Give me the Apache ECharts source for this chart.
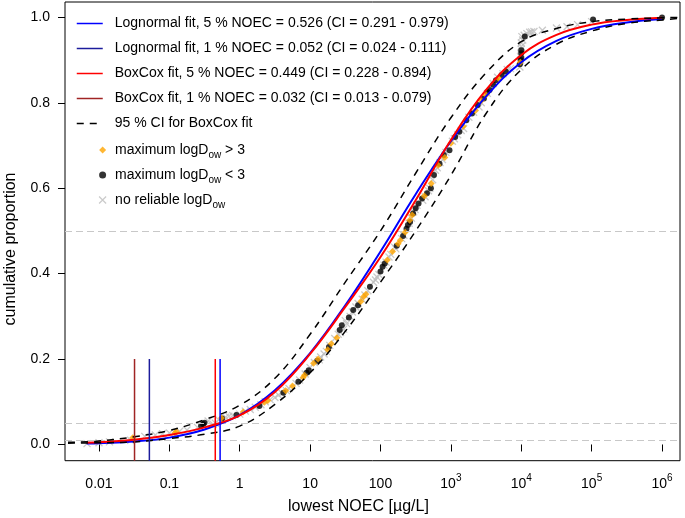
<!DOCTYPE html>
<html><head><meta charset="utf-8">
<script src="https://cdn.jsdelivr.net/npm/echarts@6/dist/echarts.min.js"></script>
<style>html,body{margin:0;padding:0;background:#fff}#c{width:685px;height:518px}</style>
</head><body><div id="c"></div>
<script>
// ---------- data ----------
const xTicks = [0.01, 0.1, 1, 10, 100, 1000, 10000, 100000, 1000000];
const yTicks = [0, 0.2, 0.4, 0.6, 0.8, 1];

const fitX = [0.00668, 0.01, 0.0316, 0.1, 0.316, 1, 3.16, 10, 31.6, 100, 316, 1000, 3162, 10000, 31623, 100000, 316228, 1000000];
const lognormalY = [0.002, 0.003, 0.007, 0.016, 0.035, 0.069, 0.127, 0.214, 0.326, 0.452, 0.586, 0.71, 0.815, 0.895, 0.945, 0.973, 0.988, 0.996];
const boxcoxY = [0.004, 0.005, 0.011, 0.022, 0.040, 0.068, 0.123, 0.212, 0.322, 0.439, 0.572, 0.713, 0.83, 0.912, 0.959, 0.983, 0.994, 0.999];

const ciX = [0.00363, 0.01, 0.0316, 0.1, 0.316, 1, 3.16, 10, 31.6, 100, 316, 1000, 3162, 10000, 31623, 100000, 316228, 1000000, 1778000];
const ciUpper = [0.005, 0.008, 0.018, 0.033, 0.058, 0.092, 0.155, 0.258, 0.38, 0.50, 0.635, 0.765, 0.87, 0.943, 0.974, 0.99, 0.996, 0.999, 1.0];
const ciLower = [0.003, 0.004, 0.006, 0.014, 0.024, 0.043, 0.094, 0.168, 0.265, 0.38, 0.50, 0.63, 0.775, 0.878, 0.937, 0.968, 0.986, 0.994, 0.998];

const refLevels = [0.01, 0.05, 0.5];

const noecNames = [
  'Lognormal fit, 5 % NOEC = 0.526 (CI = 0.291 - 0.979)',
  'Lognormal fit, 1 % NOEC = 0.052 (CI = 0.024 - 0.111)',
  'BoxCox fit, 5 % NOEC = 0.449 (CI = 0.228 - 0.894)',
  'BoxCox fit, 1 % NOEC = 0.032 (CI = 0.013 - 0.079)'
];
const noecValues = [0.526, 0.052, 0.449, 0.032];
const noecSegmentTop = 0.2;
const ciName = '95 % CI for BoxCox fit';

const pointNames = ['maximum logDow > 3', 'maximum logDow < 3', 'no reliable logDow'];

const pointsOrange = [[0.0302,0.016],[0.120,0.027],[0.126,0.030],[0.55,0.062],[1.12,0.076],[2.24,0.099],[2.51,0.103],[4.5,0.126],[5.62,0.137],[7.94,0.157],[8.32,0.162],[11.2,0.19],[13,0.2],[17.8,0.222],[20,0.236],[24,0.25],[52.5,0.335],[57.5,0.346],[62,0.352],[125,0.432],[148,0.452],[178,0.47],[191,0.478],[224,0.497],[260,0.525],[282,0.537],[420,0.582],[525,0.611],[661,0.654],[820,0.672],[1000,0.705],[1500,0.745],[2239,0.782],[2700,0.805],[3162,0.818],[4786,0.857],[9700,0.895]];

const pointsBlack = [[0.282,0.044],[0.302,0.048],[0.316,0.051],[0.562,0.061],[0.9,0.069],[1.9,0.09],[4.17,0.121],[6.8,0.147],[8.91,0.168],[9.55,0.174],[12.6,0.196],[18.5,0.228],[26.3,0.268],[28.2,0.279],[35.5,0.297],[41,0.315],[48,0.326],[70.8,0.369],[100,0.405],[107,0.416],[115,0.424],[170,0.465],[209,0.488],[234,0.505],[245,0.514],[263,0.521],[290,0.541],[316,0.553],[347,0.564],[390,0.576],[457,0.588],[520,0.6],[575,0.631],[690,0.657],[794,0.678],[955,0.689],[1150,0.72],[1318,0.732],[1660,0.759],[1995,0.775],[2400,0.795],[2951,0.81],[3300,0.825],[3548,0.83],[3981,0.842],[4365,0.853],[5248,0.865],[6026,0.873],[9550,0.89],[9800,0.9],[10000,0.905],[10000,0.916],[10000,0.923],[11220,0.955],[104700,0.995],[1000000,1.0]];

const pointsGray = [[0.00676,0.002],[0.01,0.004],[0.0141,0.006],[0.0282,0.010],[0.0447,0.019],[0.0631,0.022],[0.08,0.025],[0.1,0.027],[0.14,0.031],[0.178,0.034],[0.251,0.040],[0.355,0.055],[0.42,0.047],[0.45,0.05],[0.501,0.058],[0.631,0.064],[0.7,0.066],[0.794,0.068],[1,0.071],[1.2,0.078],[1.41,0.082],[1.66,0.087],[2.0,0.093],[2.3,0.1],[2.7,0.105],[3.16,0.110],[3.55,0.116],[4.0,0.12],[4.6,0.126],[5.01,0.131],[6.31,0.143],[7.08,0.151],[8.5,0.165],[10,0.18],[11.5,0.192],[13.5,0.198],[14.1,0.205],[15.8,0.212],[17,0.218],[19,0.232],[22.4,0.248],[25.1,0.258],[27,0.262],[30,0.27],[31.6,0.29],[33,0.283],[37,0.3],[39.8,0.31],[44.7,0.322],[48,0.33],[55,0.34],[60,0.35],[66.1,0.36],[79.4,0.38],[85,0.385],[89.1,0.392],[95,0.398],[112,0.42],[120,0.427],[132,0.439],[140,0.445],[158,0.462],[165,0.458],[200,0.482],[215,0.49],[255,0.518],[275,0.53],[295,0.545],[310,0.55],[330,0.56],[398,0.572],[430,0.58],[480,0.594],[501,0.6],[550,0.62],[603,0.642],[640,0.648],[700,0.66],[759,0.667],[850,0.684],[1050,0.71],[1122,0.716],[1250,0.725],[1400,0.735],[1514,0.74],[1800,0.766],[2100,0.778],[2512,0.79],[2700,0.8],[3300,0.822],[4000,0.845],[4600,0.86],[5500,0.868],[6310,0.878],[7000,0.88],[9550,0.884],[9772,0.9],[9772,0.908],[9900,0.915],[10000,0.925],[10000,0.932],[10000,0.94],[10470,0.947],[10200,0.955],[11000,0.958],[12020,0.962],[13180,0.965],[14000,0.966],[15140,0.967],[19950,0.97],[31620,0.975],[44670,0.978],[63100,0.983],[100000,0.99]];

// ---------- styling ----------
const F = "'Liberation Sans', Arial, sans-serif";
const xMin = 0.00329, xMax = 1.8e6, yMin = -0.038, yMax = 1.036;
const noecColors = ['#0000ff', '#1c1c9c', '#ff0000', '#a02424'];
const pointColors = ['#ffa500', '#000000', '#bdbdbd'];
const crossPath = 'path://M0,0L10,10M10,0L0,10';

const pair = (xs, ys) => xs.map((x, i) => [x, ys[i]]);

function fmtX(v) {
  const e = Math.round(Math.log10(v));
  if (e < 3) return '{b|' + ['0.01', '0.1', '1', '10', '100'][e + 2] + '}';
  return '{b|10}{s|' + e + '}';
}

const series = [];

series.push({
  type: 'scatter', name: pointNames[2], data: pointsGray, symbol: crossPath, symbolSize: 7,
  itemStyle: { color: 'rgba(0,0,0,0)', borderColor: pointColors[2], borderWidth: 1.3 },
  z: 2, silent: true,
  markLine: {
    silent: true, symbol: ['none', 'none'], label: { show: false },
    lineStyle: { color: '#c8c8c8', type: [7, 4], width: 1.2 },
    data: refLevels.map(v => ({ yAxis: v }))
  }
});
series.push({
  type: 'scatter', name: pointNames[1], data: pointsBlack, symbol: 'circle', symbolSize: 6,
  itemStyle: { color: pointColors[1] }, z: 3, silent: true
});
series.push({
  type: 'scatter', name: pointNames[0], data: pointsOrange, symbol: 'diamond', symbolSize: 7,
  itemStyle: { color: pointColors[0] }, z: 4, silent: true
});

const curveCommon = { smooth: 0.4, symbol: 'none', silent: true };
series.push(Object.assign({
  type: 'line', name: noecNames[0], data: pair(fitX, lognormalY),
  lineStyle: { color: noecColors[0], width: 2 }, itemStyle: { color: noecColors[0] }, z: 5
}, curveCommon));
series.push(Object.assign({
  type: 'line', name: noecNames[2], data: pair(fitX, boxcoxY),
  lineStyle: { color: noecColors[2], width: 2 }, itemStyle: { color: noecColors[2] }, z: 6
}, curveCommon));
series.push(Object.assign({
  type: 'line', name: ciName, data: pair(ciX, ciUpper),
  lineStyle: { color: '#000', width: 1.5, type: [7, 6] }, itemStyle: { color: '#000' }, z: 7
}, curveCommon));
series.push(Object.assign({
  type: 'line', name: 'ci-lower', data: pair(ciX, ciLower),
  lineStyle: { color: '#000', width: 1.5, type: [7, 6] }, itemStyle: { color: '#000' }, z: 7
}, curveCommon));

noecValues.forEach((v, i) => {
  series.push({
    type: 'line', name: (i === 0 || i === 2) ? noecNames[i] + ' ' : noecNames[i],
    data: [[v, yMin], [v, noecSegmentTop]], symbol: 'none',
    lineStyle: { color: noecColors[i], width: 1.5 }, itemStyle: { color: noecColors[i] }, z: 8, silent: true
  });
});

const chart = echarts.init(document.getElementById('c'), null, { renderer: 'canvas' });
chart.setOption({
  animation: false,
  backgroundColor: '#fff',
  grid: { left: 65, right: 5, top: 2, bottom: 57.3, show: true, borderColor: '#000', borderWidth: 1, backgroundColor: 'transparent' },
  xAxis: {
    type: 'log', logBase: 10, min: xMin, max: xMax,
    axisLine: { show: false },
    splitLine: { show: false },
    axisTick: { show: true, inside: false, length: 7, lineStyle: { color: '#000', width: 1 }, customValues: xTicks },
    axisLabel: {
      customValues: xTicks, margin: 13, formatter: fmtX,
      rich: {
        b: { fontSize: 14, lineHeight: 20, color: '#000', fontFamily: F },
        s: { fontSize: 10, lineHeight: 20, color: '#000', fontFamily: F, verticalAlign: 'top' }
      }
    }
  },
  yAxis: {
    type: 'value', min: yMin, max: yMax,
    axisLine: { show: false },
    splitLine: { show: false },
    axisTick: { show: true, inside: false, length: 7, lineStyle: { color: '#000', width: 1 }, customValues: yTicks },
    axisLabel: { customValues: yTicks, margin: 15, fontSize: 14, color: '#000', fontFamily: F, formatter: v => v.toFixed(1) }
  },
  legend: [
    {
      data: [noecNames[0], noecNames[1], noecNames[2], noecNames[3], ciName],
      orient: 'vertical', left: 76, top: 16.5, padding: 0, itemWidth: 26, itemHeight: 14, itemGap: 11,
      selectedMode: false,
      itemStyle: { color: 'rgba(0,0,0,0)', borderWidth: 0 },
      lineStyle: { width: 1.5 },
      textStyle: { fontSize: 14, lineHeight: 14, color: '#000', fontFamily: F, padding: [0, 0, 0, 7] }
    },
    {
      data: [
        { name: pointNames[0] },
        { name: pointNames[1] },
        { name: pointNames[2], itemStyle: { borderWidth: 1.2, borderColor: pointColors[2] } }
      ],
      orient: 'vertical', left: 98.5, top: 143, padding: 0, itemWidth: 7, itemHeight: 7, itemGap: 8,
      selectedMode: false,
      formatter: n => n.replace(/logDow(.*)$/, (m, rest) => '{a|logD}{sub|ow}' + (rest ? '{a|' + rest + '}' : '')).replace(/^(.*?)(\{a\|logD)/, '{p|$1}$2'),
      textStyle: {
        fontSize: 14, color: '#000', fontFamily: F,
        rich: {
          p: { fontSize: 14, lineHeight: 20, color: '#000', fontFamily: F, padding: [0, 0, 0, 4] },
          a: { fontSize: 14, lineHeight: 20, color: '#000', fontFamily: F },
          sub: { fontSize: 10, lineHeight: 20, color: '#000', fontFamily: F, verticalAlign: 'bottom' }
        }
      }
    }
  ],
  graphic: [
    { type: 'text', left: 288, top: 499, style: { text: 'lowest NOEC [µg/L]', fontSize: 16, fill: '#000', fontFamily: F } },
    { type: 'text', x: 3, y: 249, rotation: Math.PI / 2, style: { text: 'cumulative proportion', fontSize: 16, fill: '#000', fontFamily: F, align: 'center', verticalAlign: 'top' } }
  ],
  series: series
});
</script>
</body></html>
